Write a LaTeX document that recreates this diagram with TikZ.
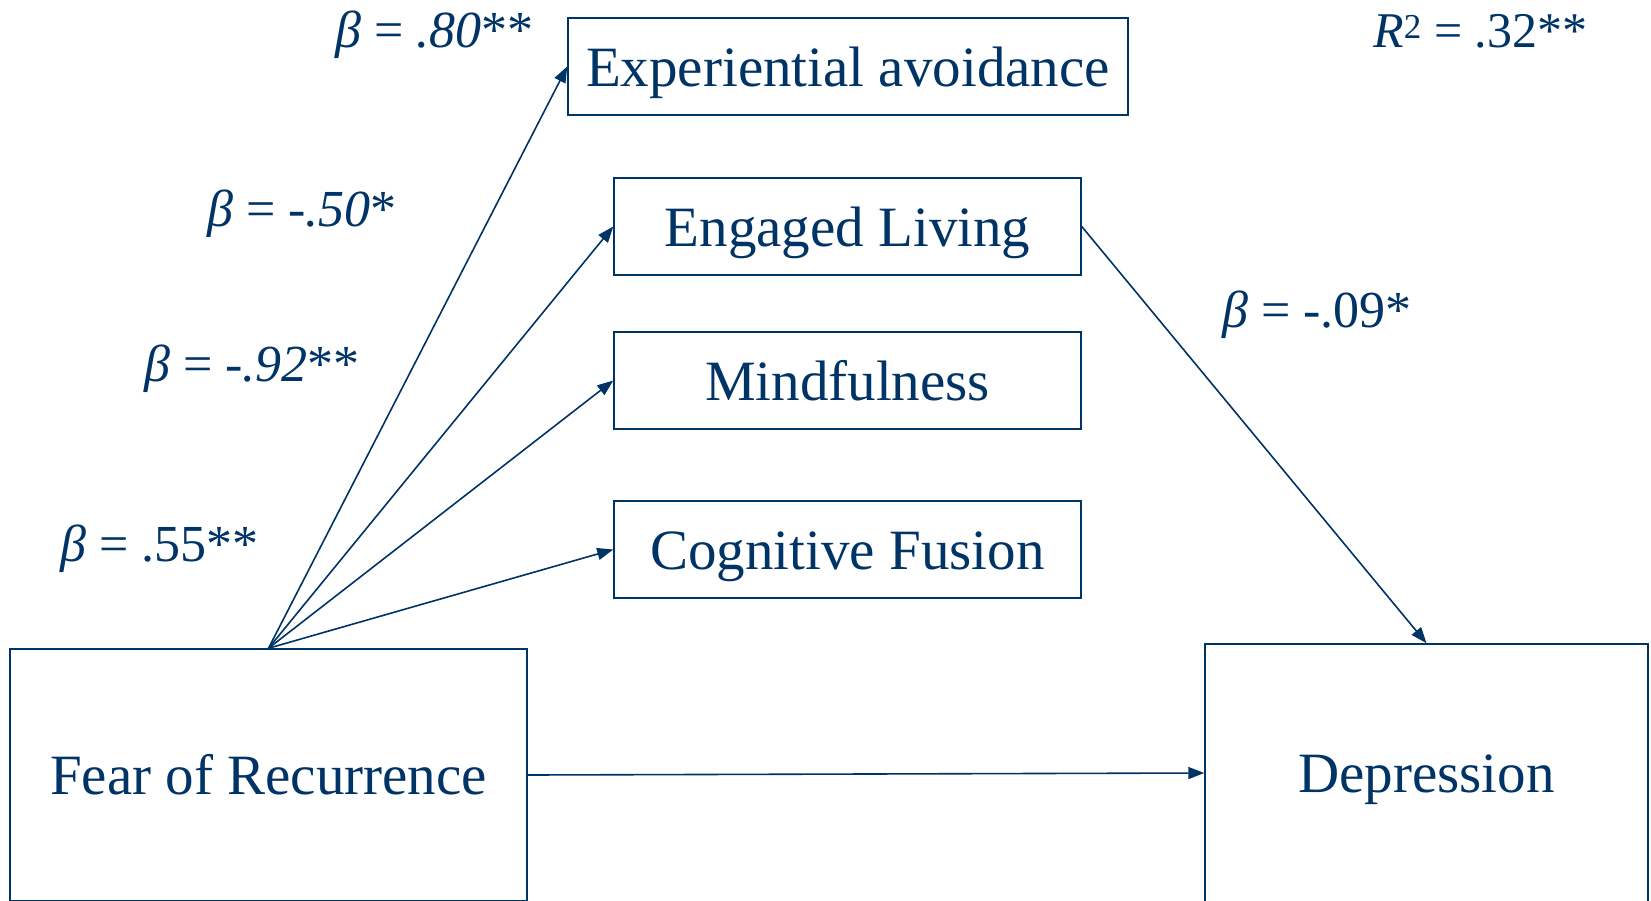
\documentclass[tikz,border=0pt]{standalone}
\usepackage{fontspec}
\setmainfont{Liberation Serif}
\usetikzlibrary{arrows.meta}
\definecolor{navy}{RGB}{0,51,102}
\tikzset{
  box/.style={draw=navy, line width=1.5pt, inner sep=0pt, text=navy, text height=39pt, text depth=0pt, font=\fontsize{57}{60}\selectfont},
  conn/.style={draw=navy, line width=1.6pt, -{Triangle[length=16pt,width=12pt]}},
  coef/.style={text=navy, inner sep=0pt, anchor=west, font=\fontsize{52}{56}\selectfont}
}
\begin{document}
\begin{tikzpicture}[x=1pt, y=-1pt]
\useasboundingbox (0,0) rectangle (1651,900);
\node[box, minimum width=560pt, minimum height=97pt] (exp) at (848,66.5) {Experiential avoidance};
\node[box, minimum width=467pt, minimum height=97pt] (eng) at (847.5,226.5) {Engaged Living};
\node[box, minimum width=467pt, minimum height=97pt] (mind) at (847.5,380.5) {Mindfulness};
\node[box, minimum width=467pt, minimum height=97pt] (cog) at (847.5,549.5) {Cognitive Fusion};
\node[box, minimum width=517pt, minimum height=252pt] (fear) at (268.5,775) {Fear of Recurrence};
\node[box, minimum width=443pt, minimum height=258pt] (dep) at (1426.5,773) {Depression};

\draw[conn] (fear.north) -- (exp.west);
\draw[conn] (fear.north) -- (eng.west);
\draw[conn] (fear.north) -- (mind.west);
\draw[conn] (fear.north) -- (cog.west);
\draw[conn] (eng.east) -- (dep.north);
\draw[conn] (fear.east) -- (dep.west);

\node[coef] (b1) at (335,35) {\textit{β} = \textit{.80}**};
\node[coef] (b2) at (207,214) {\textit{β} = \textit{-.50}*};
\node[coef] (b3) at (144,369) {\textit{β} = \textit{-.92}**};
\node[coef] (b4) at (60,549) {\textit{β} = .55**};
\node[coef] (b5) at (1222,315) {\textit{β} = -.09*};
\node[coef, font=\fontsize{50}{54}\selectfont] (r2) at (1373,31) {\textit{R}\textsuperscript{2} = .32**};
\end{tikzpicture}
\end{document}
